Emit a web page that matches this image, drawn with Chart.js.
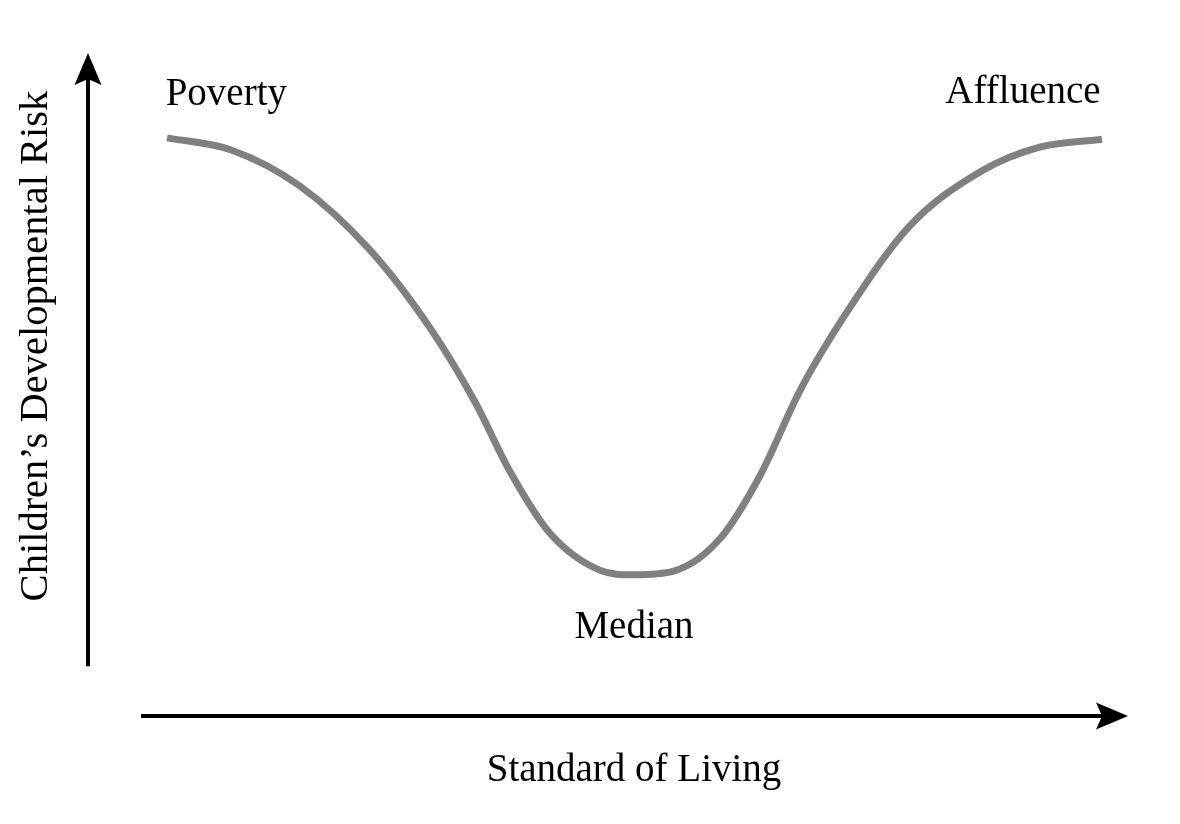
<!DOCTYPE html>
<html>
<head>
<meta charset="utf-8">
<title>Standard of Living vs Children's Developmental Risk</title>
<script src="https://cdn.jsdelivr.net/npm/chart.js@4"></script>
<style>
  html, body { margin: 0; padding: 0; background: #fff; }
  #wrap { width: 1180px; height: 824px; }
</style>
</head>
<body>
<div id="wrap"><canvas id="riskChart" width="1180" height="824"></canvas></div>
<script>
// curve (x = standard of living, y = risk, both 0..100)
const livingLevels = [7.6, 13.7, 20.4, 27.1, 32.9, 37.2, 40.6, 44.4, 49.2, 52.4,
                      56.4, 60.8, 64.6, 68.5, 73.3, 79.0, 85.8, 91.5, 97.5];
const riskValues = [87.2, 85.4, 79.9, 70.3, 58.5, 47.4, 36.8, 27.6, 22.0, 21.3,
                    21.9, 26.8, 36.2, 49.2, 61.7, 73.9, 82.1, 85.8, 87.0];

// text labels placed in data units (alphabetic baseline)
const labelTexts = ["Poverty", "Affluence", "Median"];
const labelX = [13.3, 89.9, 52.5];
const labelY = [92.2, 92.4, 11.8];

const xTitle = "Standard of Living";
const yTitle = "Children\u2019s Developmental Risk";

// where the axis lines begin (data units)
const xAxisStart = 5.1;
const yAxisStart = 7.5;

const FONT = '39px "Liberation Serif", "Times New Roman", serif';
const Y_FONT = '40.5px "Liberation Serif", "Times New Roman", serif';

function arrowHead(ctx, tipX, tipY, dir) {
    // dir: "up" or "right"
    const len = 32, half = 13.5, notch = 6;
    ctx.beginPath();
    if (dir === "up") {
        ctx.moveTo(tipX, tipY);
        ctx.lineTo(tipX + half, tipY + len);
        ctx.lineTo(tipX, tipY + len - notch);
        ctx.lineTo(tipX - half, tipY + len);
    } else {
        ctx.moveTo(tipX, tipY);
        ctx.lineTo(tipX - len, tipY - half);
        ctx.lineTo(tipX - len + notch, tipY);
        ctx.lineTo(tipX - len, tipY + half);
    }
    ctx.closePath();
    ctx.fill();
}

const axesPlugin = {
    id: "arrowAxes",
    afterDatasetsDraw(chart) {
        const ctx = chart.ctx;
        const xs = chart.scales.x, ys = chart.scales.y;
        const x0 = xs.getPixelForValue(0);
        const y0 = ys.getPixelForValue(0);
        const xEnd = xs.getPixelForValue(100);
        const yEnd = ys.getPixelForValue(100);

        ctx.save();
        ctx.strokeStyle = "#000";
        ctx.fillStyle = "#000";
        ctx.lineWidth = 4;
        ctx.lineCap = "butt";

        // vertical axis
        ctx.beginPath();
        ctx.moveTo(x0, ys.getPixelForValue(yAxisStart));
        ctx.lineTo(x0, yEnd + 20);
        ctx.stroke();
        arrowHead(ctx, x0, yEnd, "up");

        // horizontal axis
        ctx.beginPath();
        ctx.moveTo(xs.getPixelForValue(xAxisStart), y0);
        ctx.lineTo(xEnd - 20, y0);
        ctx.stroke();
        arrowHead(ctx, xEnd, y0, "right");

        // labels
        ctx.font = FONT;
        ctx.textAlign = "center";
        ctx.textBaseline = "alphabetic";
        labelTexts.forEach((t, i) => {
            ctx.fillText(t, xs.getPixelForValue(labelX[i]), ys.getPixelForValue(labelY[i]));
        });

        // axis titles
        ctx.fillText(xTitle, xs.getPixelForValue(52.5), y0 + 65);
        ctx.font = Y_FONT;
        ctx.translate(x0 - 41.5, ys.getPixelForValue(55.8));
        ctx.rotate(-Math.PI / 2);
        ctx.fillText(yTitle, 0, 0);
        ctx.restore();
    }
};

const ctx = document.getElementById("riskChart").getContext("2d");

new Chart(ctx, {
    type: "line",
    data: {
        datasets: [
            {
                data: livingLevels.map((v, i) => ({ x: v, y: riskValues[i] })),
                borderColor: "#808080",
                borderWidth: 7,
                borderCapStyle: "butt",
                borderJoinStyle: "round",
                pointRadius: 0,
                cubicInterpolationMode: "monotone",
                fill: false,
            },
        ],
    },
    options: {
        responsive: false,
        animation: false,
        layout: {
            padding: { left: 88, right: 52, top: 53, bottom: 108 },
        },
        plugins: {
            legend: { display: false },
            tooltip: { enabled: false },
        },
        scales: {
            x: { type: "linear", min: 0, max: 100, display: false },
            y: { type: "linear", min: 0, max: 100, display: false },
        },
    },
    plugins: [axesPlugin],
});
</script>
</body>
</html>
